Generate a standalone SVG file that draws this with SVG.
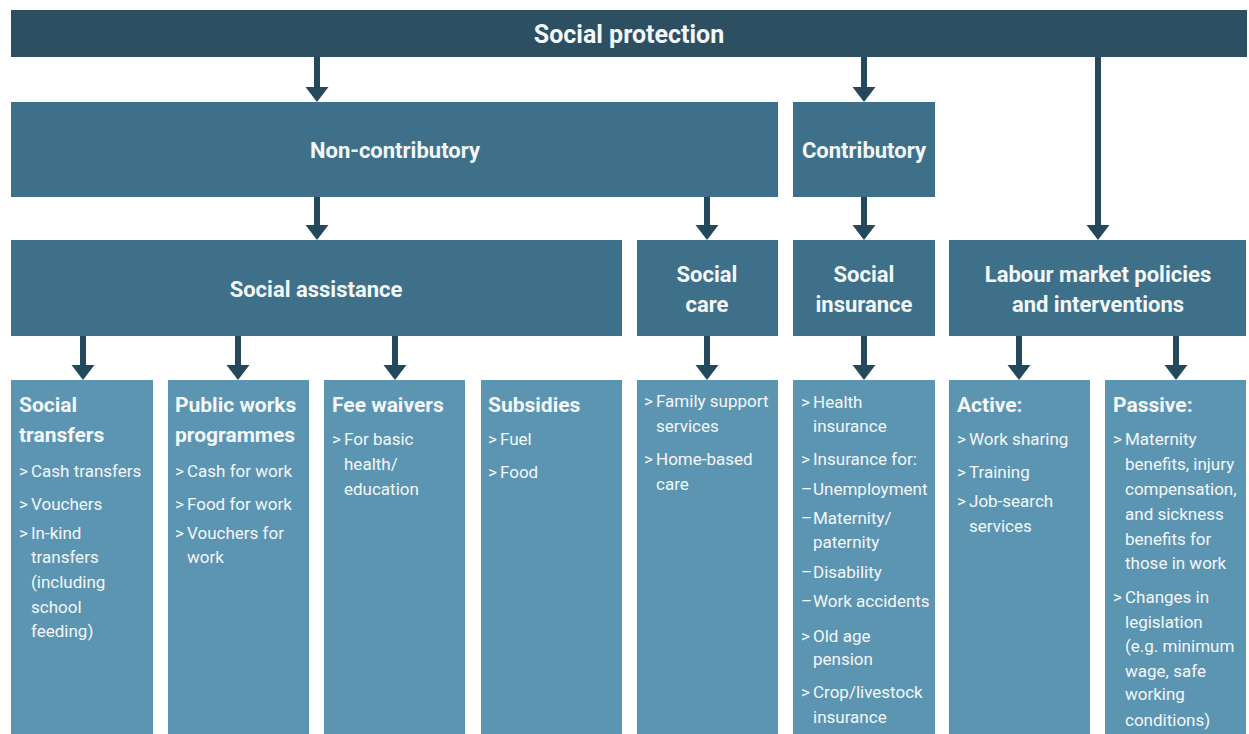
<svg xmlns="http://www.w3.org/2000/svg" width="1249" height="734" viewBox="0 0 1249 734">
<style>
.top{fill:#2c4f62}
.mid{fill:#3e7189}
.leaf{fill:#5b95b2}
text{font-family:Roboto,"Liberation Sans",sans-serif;fill:#f4f7f9}
.h1{font-size:25px;font-weight:700;text-anchor:middle}
.h2{font-size:22px;font-weight:700;text-anchor:middle}
.h3{font-size:21px;font-weight:700}
.it{font-size:17px}
.con line{stroke:#25495c;stroke-width:6;marker-end:url(#ah)}
</style>
<defs>
<marker id="ah" markerUnits="userSpaceOnUse" markerWidth="16" markerHeight="24" viewBox="0 0 16 24" refX="1" refY="12" orient="auto">
<path d="M0,0.5 L15,12 L0,23.5 z" fill="#25495c"/>
</marker>
</defs>
<rect width="1249" height="734" fill="#ffffff"/>
<g class="con">
<line x1="317" y1="57" x2="317" y2="88"/>
<line x1="864" y1="57" x2="864" y2="88"/>
<line x1="1098" y1="57" x2="1098" y2="226"/>
<line x1="317" y1="197" x2="317" y2="226"/>
<line x1="707" y1="197" x2="707" y2="226"/>
<line x1="864" y1="197" x2="864" y2="226"/>
<line x1="83" y1="336" x2="83" y2="366"/>
<line x1="238" y1="336" x2="238" y2="366"/>
<line x1="395" y1="336" x2="395" y2="366"/>
<line x1="707" y1="336" x2="707" y2="366"/>
<line x1="864" y1="336" x2="864" y2="366"/>
<line x1="1019" y1="336" x2="1019" y2="366"/>
<line x1="1176" y1="336" x2="1176" y2="366"/>
</g>
<g id="social-protection"><rect class="top" x="11" y="10" width="1236" height="47"/><text class="h1" x="629" y="43">Social protection</text></g>
<g id="non-contributory"><rect class="mid" x="11" y="102" width="767" height="95"/><text class="h2" x="395" y="158">Non-contributory</text></g>
<g id="contributory"><rect class="mid" x="793" y="102" width="142" height="95"/><text class="h2" x="864" y="158">Contributory</text></g>
<g id="social-assistance"><rect class="mid" x="11" y="240" width="611" height="96"/><text class="h2" x="316" y="297">Social assistance</text></g>
<g id="social-care"><rect class="mid" x="637" y="240" width="141" height="96"/><text class="h2" x="707" y="282">Social</text><text class="h2" x="707" y="312">care</text></g>
<g id="social-insurance"><rect class="mid" x="793" y="240" width="142" height="96"/><text class="h2" x="864" y="282">Social</text><text class="h2" x="864" y="312">insurance</text></g>
<g id="labour-market"><rect class="mid" x="949" y="240" width="297" height="96"/><text class="h2" x="1098" y="282">Labour market policies</text><text class="h2" x="1098" y="312">and interventions</text></g>
<g id="social-transfers"><rect class="leaf" x="11" y="380" width="142" height="354"/>
<text class="h3" x="19" y="412">Social</text><text class="h3" x="19" y="442">transfers</text>
<text class="it" y="477"><tspan x="19">&gt;</tspan><tspan x="31">Cash transfers</tspan></text>
<text class="it" y="510"><tspan x="19">&gt;</tspan><tspan x="31">Vouchers</tspan></text>
<text class="it" y="539"><tspan x="19">&gt;</tspan><tspan x="31">In-kind</tspan></text>
<text class="it" x="31" y="563">transfers</text>
<text class="it" x="31" y="588">(including</text>
<text class="it" x="31" y="613">school</text>
<text class="it" x="31" y="637">feeding)</text>
</g>
<g id="public-works"><rect class="leaf" x="168" y="380" width="141" height="354"/>
<text class="h3" x="175" y="412">Public works</text><text class="h3" x="175" y="442">programmes</text>
<text class="it" y="477"><tspan x="175">&gt;</tspan><tspan x="187">Cash for work</tspan></text>
<text class="it" y="510"><tspan x="175">&gt;</tspan><tspan x="187">Food for work</tspan></text>
<text class="it" y="539"><tspan x="175">&gt;</tspan><tspan x="187">Vouchers for</tspan></text>
<text class="it" x="187" y="563">work</text>
</g>
<g id="fee-waivers"><rect class="leaf" x="324" y="380" width="141" height="354"/>
<text class="h3" x="332" y="412">Fee waivers</text>
<text class="it" y="445"><tspan x="332">&gt;</tspan><tspan x="344">For basic</tspan></text>
<text class="it" x="344" y="470">health/</text>
<text class="it" x="344" y="495">education</text>
</g>
<g id="subsidies"><rect class="leaf" x="481" y="380" width="141" height="354"/>
<text class="h3" x="488" y="412">Subsidies</text>
<text class="it" y="445"><tspan x="488">&gt;</tspan><tspan x="500">Fuel</tspan></text>
<text class="it" y="478"><tspan x="488">&gt;</tspan><tspan x="500">Food</tspan></text>
</g>
<g id="social-care-items"><rect class="leaf" x="637" y="380" width="141" height="354"/>
<text class="it" y="407"><tspan x="644">&gt;</tspan><tspan x="656">Family support</tspan></text>
<text class="it" x="656" y="432">services</text>
<text class="it" y="465"><tspan x="644">&gt;</tspan><tspan x="656">Home-based</tspan></text>
<text class="it" x="656" y="490">care</text>
</g>
<g id="social-insurance-items"><rect class="leaf" x="793" y="380" width="142" height="354"/>
<text class="it" y="408"><tspan x="801">&gt;</tspan><tspan x="813">Health</tspan></text>
<text class="it" x="813" y="432">insurance</text>
<text class="it" y="465"><tspan x="801">&gt;</tspan><tspan x="813">Insurance for:</tspan></text>
<text class="it" y="495"><tspan x="801">–</tspan><tspan x="813">Unemployment</tspan></text>
<text class="it" y="524"><tspan x="801">–</tspan><tspan x="813">Maternity/</tspan></text>
<text class="it" x="813" y="548">paternity</text>
<text class="it" y="578"><tspan x="801">–</tspan><tspan x="813">Disability</tspan></text>
<text class="it" y="607"><tspan x="801">–</tspan><tspan x="813">Work accidents</tspan></text>
<text class="it" y="642"><tspan x="801">&gt;</tspan><tspan x="813">Old age</tspan></text>
<text class="it" x="813" y="665">pension</text>
<text class="it" y="698"><tspan x="801">&gt;</tspan><tspan x="813">Crop/livestock</tspan></text>
<text class="it" x="813" y="723">insurance</text>
</g>
<g id="active"><rect class="leaf" x="949" y="380" width="141" height="354"/>
<text class="h3" x="957" y="412">Active:</text>
<text class="it" y="445"><tspan x="957">&gt;</tspan><tspan x="969">Work sharing</tspan></text>
<text class="it" y="478"><tspan x="957">&gt;</tspan><tspan x="969">Training</tspan></text>
<text class="it" y="507"><tspan x="957">&gt;</tspan><tspan x="969">Job-search</tspan></text>
<text class="it" x="969" y="532">services</text>
</g>
<g id="passive"><rect class="leaf" x="1105" y="380" width="141" height="354"/>
<text class="h3" x="1113" y="412">Passive:</text>
<text class="it" y="445"><tspan x="1113">&gt;</tspan><tspan x="1125">Maternity</tspan></text>
<text class="it" x="1125" y="470">benefits, injury</text>
<text class="it" x="1125" y="495">compensation,</text>
<text class="it" x="1125" y="520">and sickness</text>
<text class="it" x="1125" y="545">benefits for</text>
<text class="it" x="1125" y="569">those in work</text>
<text class="it" y="603"><tspan x="1113">&gt;</tspan><tspan x="1125">Changes in</tspan></text>
<text class="it" x="1125" y="628">legislation</text>
<text class="it" x="1125" y="652">(e.g. minimum</text>
<text class="it" x="1125" y="677">wage, safe</text>
<text class="it" x="1125" y="700">working</text>
<text class="it" x="1125" y="726">conditions)</text>
</g>
</svg>
